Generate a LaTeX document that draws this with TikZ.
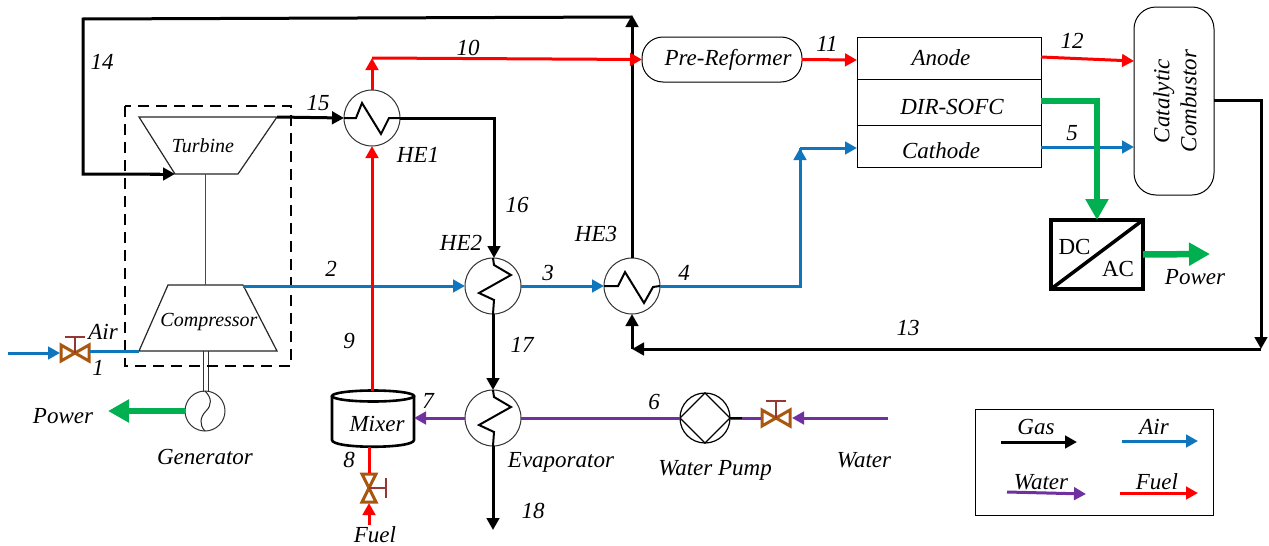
\documentclass[tikz,border=0pt]{standalone}
\usepackage{fontspec}
\setmainfont{Liberation Serif}
\usetikzlibrary{arrows.meta,calc}
\definecolor{cblue}{HTML}{0F75BD}
\definecolor{cred}{HTML}{FF0000}
\definecolor{cpurple}{HTML}{7030A0}
\definecolor{cgreen}{HTML}{00B050}
\definecolor{cbrown}{HTML}{A9570F}
\definecolor{cstem}{HTML}{953735}
\tikzset{
  lab/.style={font=\fontsize{23}{25}\selectfont\itshape,inner sep=0pt,align=center},
  labs/.style={font=\fontsize{20}{22}\selectfont\itshape,inner sep=0pt,align=center},
  upr/.style={font=\fontsize{23}{25}\selectfont,inner sep=0pt},
  flow/.style={line width=3pt,-{Triangle[length=12pt,width=12.5pt]}},
  plain/.style={line width=3pt},
  gas/.style={flow,black},
  air/.style={flow,cblue},
  fuel/.style={flow,cred},
  water/.style={flow,cpurple},
  gaspl/.style={plain,black},
  airpl/.style={plain,cblue},
  fuelpl/.style={plain,cred},
  waterpl/.style={plain,cpurple},
  pow/.style={line width=6.5pt,cgreen,-{Triangle[length=21pt,width=22pt]}},
  hx/.style={circle,draw=black!80,line width=1pt,minimum size=56pt,inner sep=0pt,outer sep=0pt},
  box/.style={draw=black,line width=1pt,inner sep=0pt,outer sep=0pt},
  valve/.style={line width=3pt,cbrown,line join=miter},
  stem/.style={line width=1.3pt,cstem},
  zig/.style={line width=2pt,black,line join=miter},
}
\begin{document}
\begin{tikzpicture}[x=1pt,y=-1pt]
\useasboundingbox (0,0) rectangle (1269,546);
\fill[white] (0,0) rectangle (1269,546);

% heat exchangers and rotating equipment
\node[hx] (he1) at (372,118) {};
\node[hx] (he2) at (493,286) {};
\node[hx] (he3) at (632,286) {};
\node[hx] (evap) at (493,418) {};
\node[hx,minimum size=40pt] (gen) at (205,411) {};
\node[hx,minimum size=50pt,draw=black,line width=1.2pt] (pump) at (705,418) {};

% blocks
\node[box,rounded corners=21pt,minimum width=160pt,minimum height=45pt] (pre) at (722,59.5) {};
\node[box,minimum width=184pt,minimum height=42pt] (anode) at (949,58) {};
\node[box,minimum width=184pt,minimum height=46pt] (sofc) at (949,102) {};
\node[box,minimum width=184pt,minimum height=42pt] (cath) at (949,146) {};
\node[box,rounded corners=22pt,minimum width=80pt,minimum height=188pt] (comb) at (1174,101) {};
\node[draw=black,line width=3.5pt,inner sep=0pt,outer sep=0pt,minimum width=92pt,minimum height=69pt] (conv) at (1097,254.5) {};
\node[box,minimum width=238pt,minimum height=106pt] (legend) at (1094,462) {};

% turbine / compressor
\coordinate (tTL) at (139,117); \coordinate (tTR) at (277,117);
\coordinate (tBL) at (175,174); \coordinate (tBR) at (238,174);
\coordinate (cTL) at (168,285); \coordinate (cTR) at (243,285);
\coordinate (cBL) at (139,351); \coordinate (cBR) at (277,351);
\draw[line width=1.2pt,black!85] (tTL)--(tTR)--(tBR)--(tBL)--cycle;
\draw[line width=1.2pt,black!85] (cTL)--(cTR)--(cBR)--(cBL)--cycle;
\draw[line width=1pt,black!70] (205,174)--(205,285);
\draw[line width=1pt,black!80] (203,351)--(203,392) (208,351)--(208,392);
\draw[line width=1.7pt,dash pattern=on 11pt off 7pt] (125,106) rectangle (291,366);

% zigzags
\draw[zig] (he1.west)--++(12,0)--++(6,-15)--++(19,31)--++(8,-16)--(he1.east);
\draw[zig] (he3.west)--++(14,0)--++(7,-14)--++(19,31)--++(9,-16)--(he3.east);
\draw[zig] (he2.north)--++(1,7)--++(17,10)--++(-32,18)--++(15,7)--(he2.south);
\draw[zig] (evap.north)--++(1,7)--++(17,10)--++(-32,18)--++(15,7)--(evap.south);
\draw[line width=1pt,black!85] (gen.north) .. controls (212,398) and (212,405) .. (206,411) .. controls (200,417) and (199,425) .. (205,431);
\draw[line width=1.2pt] (pump.west)--(pump.north)--(pump.east)--(pump.south)--cycle;

% mixer
\coordinate (mT) at (373,396); \coordinate (mB) at (373,445);
\draw[line width=2.6pt,fill=white] (332,396) -- (332,440) .. controls (332,449) and (414,449) .. (414,440) -- (414,396);
\draw[line width=2.6pt] (mT) ellipse [x radius=41pt,y radius=5.5pt];

% valves
\coordinate (vair) at (75,353);
\coordinate (vfuel) at (369,488);
\coordinate (vwat) at (776,418);
\draw[valve] (61,345)--(89,361)--(89,345)--(61,361)--cycle;
\draw[stem] (vair)--(75,337) (65,337)--(85,337);
\draw[valve] (362,474)--(376,474)--(362,502)--(376,502)--cycle;
\draw[stem] (vfuel)--(386,488) (386,478)--(386,498);
\draw[valve] (762,410)--(790,426)--(790,410)--(762,426)--cycle;
\draw[stem] (vwat)--(776,401) (766,401)--(786,401);

% free ends and corners
\coordinate (airin) at (8,353);
\coordinate (w14a) at (83,19);
\coordinate (w14b) at (83,174);
\coordinate (top3) at (632,15);
\coordinate (c10) at (372,58);
\coordinate (c16) at (494,118);
\coordinate (c4a) at (800,286);
\coordinate (c4b) at (800,148);
\coordinate (cg) at (1097,101);
\coordinate (c13a) at (1261,100);
\coordinate (c13b) at (1261,349);
\coordinate (c13c) at (632,349);
\coordinate (pw1) at (108,411);
\coordinate (pw2) at (1210,254);
\coordinate (fuelin) at (369,525);
\coordinate (watin) at (888,418);
\coordinate (end18) at (493,530);

% air
\draw[air] (airin)--(60,353);
\draw[airpl] (90,351)--(cBL);
\draw[air] (cTR|-he2.west)--(he2.west);
\draw[air] (he2.east)--(he3.west);
\draw[airpl] (he3.east)--(c4a)--(c4b);
\draw[air] (800,160)--(c4b);
\draw[air] (c4b)--(cath.west|-c4b);
\draw[air] (cath.east|-0,147)--(comb.west|-0,147);

% gas
\draw[gas] (tTR)--(he1.west);
\draw[gas] (he1.east)--(c16)--($(he2.north)+(1,0)$);
\draw[gaspl] (he2.south)--(493,378);
\draw[gas] (493,372)--(evap.north);
\draw[gas] (evap.south)--(end18);
\draw[gas] (he3.north)--(top3);
\draw[gaspl] (632,17)--(w14a)--(w14b)--(160,174);
\draw[gas] (150,174)--(tBL);
\draw[gaspl] (comb.east|-0,100)--(c13a)--(1261,337);
\draw[gas] (1261,330)--(c13b);
\draw[gas] (c13b)--(c13c);
\draw[gas] (c13c)--(he3.south);

% fuel
\draw[fuel] (he1.north)--(c10);
\draw[fuel] (c10)--(pre.west);
\draw[fuel] (pre.east)--(anode.west|-0,60);
\draw[fuel] (anode.east|-0,57)--(comb.west|-0,61);
\draw[fuel] (372,391)--(he1.south);
\draw[fuelpl] (369,447)--(369,473);
\draw[fuel] (fuelin)--(369,503);

% water
\draw[waterpl] (pump.west)--(evap.east);
\draw[water] (evap.west)--(414,418);
\draw[waterpl] (pump.east)--(761,418);
\draw[gaspl,line width=1.4pt] (pump.east)--(742,418);
\draw[water] (watin)--(792,418);

% power
\draw[pow] (sofc.east|-0,101)--(cg)--(conv.north);
\draw[pow] (conv.east)--(pw2);
\draw[pow] (gen.west)--(pw1);

% converter diagonal
\draw[line width=3.5pt] (conv.south west)--(conv.north east);

% labels
\node[lab] (l14) at (102,62) {14};
\node[lab] (l15) at (318,103) {15};
\node[lab] (l10) at (468,48) {10};
\node[lab] (l11) at (827,44) {11};
\node[lab] (l12) at (1072,41) {12};
\node[lab] (lan) at (941,58) {Anode};
\node[lab] (lsofc) at (952,107) {DIR-SOFC};
\node[lab] (lcat) at (941,151) {Cathode};
\node[lab] (l5) at (1072,133) {5};
\node[lab] (l16) at (517,205) {16};
\node[lab] (lhe2) at (461,243) {HE2};
\node[lab] (lhe3) at (596,234) {HE3};
\node[lab] (lhe1) at (418,155) {HE1};
\node[lab] (l2) at (331,269) {2};
\node[lab] (l3) at (548,273) {3};
\node[lab] (l4) at (684,273) {4};
\node[lab] (l13) at (908,328) {13};
\node[lab] (lp2) at (1195,277) {Power};
\node[lab] (lair) at (103,332) {Air};
\node[lab] (l1) at (98,368) {1};
\node[lab] (l9) at (349,341) {9};
\node[lab] (l17) at (522,345) {17};
\node[lab] (l7) at (428,401) {7};
\node[lab] (l8) at (349,460) {8};
\node[lab] (l6) at (654,402) {6};
\node[lab] (lp1) at (63,416) {Power};
\node[lab] (lgen) at (205,457) {Generator};
\node[lab] (lev) at (561,462) {Evaporator};
\node[lab] (lwp) at (715,470) {Water Pump};
\node[lab] (lw) at (864,460) {Water};
\node[lab] (l18) at (533,511) {18};
\node[lab] (lfu) at (375,535) {Fuel};
\node[lab] (lmx) at (377,424) {Mixer};
\node[labs] (ltb) at (203,146) {Turbine};
\node[labs] (lcp) at (209,322) {Compressor};
\node[lab] (lpre) at (728,60) {Pre-Reformer};
\node[lab,rotate=90] (lcc) at (1175,101) {Catalytic\\[2pt]Combustor};
\node[upr] (ldc) at (1074.5,247) {DC};
\node[upr] (lac) at (1118,269) {AC};

% legend
\coordinate (k1a) at (1001,442); \coordinate (k1b) at (1077,442);
\coordinate (k2a) at (1122,441); \coordinate (k2b) at (1198,441);
\coordinate (k3a) at (1007,492); \coordinate (k3b) at (1086,494);
\coordinate (k4a) at (1120,493); \coordinate (k4b) at (1198,493);
\draw[gas] (k1a)--(k1b);
\draw[air] (k2a)--(k2b);
\draw[water] (k3a)--(k3b);
\draw[fuel] (k4a)--(k4b);
\node[lab] (kg) at (1036,427) {Gas};
\node[lab] (ka) at (1154,427) {Air};
\node[lab] (kw) at (1041,482) {Water};
\node[lab] (kf) at (1157,482) {Fuel};
\end{tikzpicture}
\end{document}
